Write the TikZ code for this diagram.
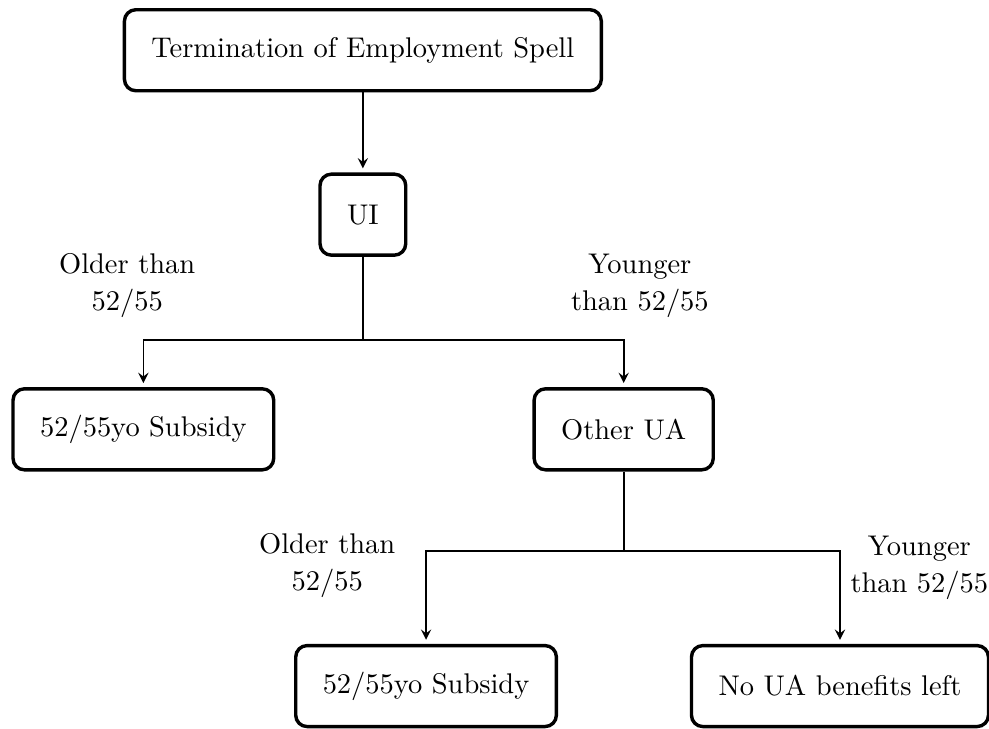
\documentclass[tikz,border=0pt]{standalone}
\usepackage{tikz}
\tikzset{stage/.style={draw, very thick, rounded corners, minimum height=1cm, inner xsep=9.5pt}}
\tikzset{every edge/.style={shorten >=0.5mm, draw, semithick}}

\begin{document}
\begin{tikzpicture}[scale=1]       % benefit path after job loss
    \path[use as bounding box] (0, 0) rectangle (12.21, -9.0);

    \node[stage] at (4.48, -0.62) (term) {Termination of Employment Spell};
    \node[stage] at (4.48, -2.65) (UI) {UI};
    \node[stage] at (1.77, -5.30) (subA) {52/55yo Subsidy};
    \node[stage] at (7.70, -5.30) (UA) {Other UA};
    \node[stage] at (5.26, -8.47) (subB) {52/55yo Subsidy};
    \node[stage] at (10.37, -8.47) (none) {No UA benefits left};

    \coordinate (splitA) at (4.48, -4.20);
    \coordinate (splitB) at (7.70, -6.80);

    \draw (term) edge[-stealth] (UI);
    \draw[semithick] (UI) -- (splitA);
    \draw[semithick, shorten >=0.5mm, -stealth] (splitA) -| (subA);
    \draw[semithick, shorten >=0.5mm, -stealth] (splitA) -| (UA);

    \draw[semithick] (UA) -- (splitB);
    \draw[semithick, shorten >=0.5mm, -stealth] (splitB) -| (subB);
    \draw[semithick, shorten >=0.5mm, -stealth] (splitB) -| (none);

    \node[align=center] at (1.57, -3.53) (oldA) {Older than \\[1pt] 52/55};
    \node[align=center] at (7.90, -3.53) (youngA) {Younger \\[1pt] than 52/55};
    \node[align=center] at (4.04, -6.98) (oldB) {Older than \\[1pt] 52/55};
    \node[align=center] at (11.35, -7.01) (youngB) {Younger \\[1pt] than 52/55};
\end{tikzpicture}
\end{document}
